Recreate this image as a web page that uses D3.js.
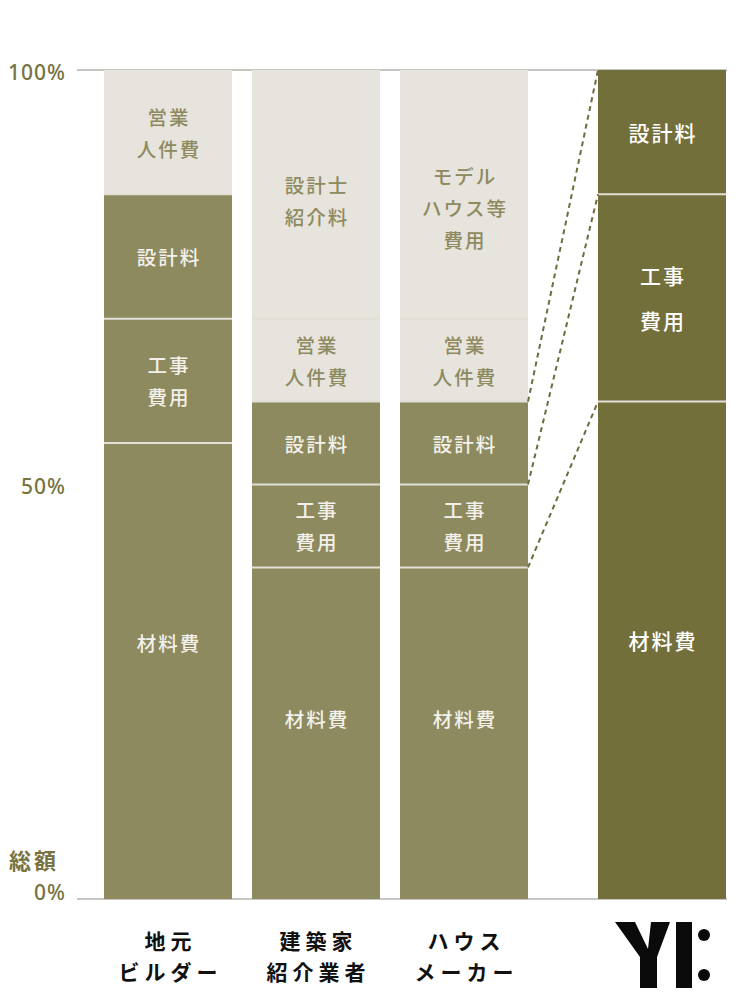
<!DOCTYPE html>
<html><head><meta charset="utf-8">
<script src="https://cdn.jsdelivr.net/npm/d3@7"></script>
<style>
html,body{margin:0;padding:0;background:#fff;}
svg{display:block;font-family:"Noto Sans CJK JP","Noto Sans",sans-serif;}
</style></head>
<body>
<svg id="chart" width="748" height="1000"></svg>
<script>
// ---- data ----
const categories = ["地元ビルダー", "建築家紹介業者", "ハウスメーカー", "YI"];
const categoryLines = [["地元", "ビルダー"], ["建築家", "紹介業者"], ["ハウス", "メーカー"], null];

const segLocal     = [["材料費", 55, "cost"], ["工事\n費用", 15, "cost"], ["設計料", 15, "cost"], ["営業\n人件費", 15, "extra"]];
const segArchitect = [["材料費", 40, "cost"], ["工事\n費用", 10, "cost"], ["設計料", 10, "cost"], ["営業\n人件費", 10, "extra"], ["設計士\n紹介料", 30, "extra"]];
const segMaker     = [["材料費", 40, "cost"], ["工事\n費用", 10, "cost"], ["設計料", 10, "cost"], ["営業\n人件費", 10, "extra"], ["モデル\nハウス等\n費用", 30, "extra"]];
const segYI        = [["材料費", 60, "yi"], ["工事\n費用", 25, "yi"], ["設計料", 15, "yi"]];
const seriesSegments = [segLocal, segArchitect, segMaker, segYI];

const yTicks = [0, 50, 100];
const yTickLabels = ["0%", "50%", "100%"];
const totalLabel = "総額";

// ---- styles ----
const fill = {cost: "#8d8a5f", extra: "#e7e4dd", yi: "#736f3a"};
const textFill = {cost: "#f3f1ea", extra: "#8d8a5f", yi: "#ffffff"};
const labelShift = {"0-0": -29, "1-0": -15, "2-0": -15, "3-0": -10, "1-4": 6, "2-4": 13};
const tickShift = {0: -7, 50: 1.5, 100: 2};

const svg = d3.select("#chart");
const y = d3.scaleLinear().domain([0, 100]).range([899, 70]);
const xb = d3.scaleBand().domain(categories.slice(0, 3)).range([104, 528]).paddingInner(20 / 148);
const bw = xb.bandwidth();
const xPos = c => c === "YI" ? xb(categories[2]) + bw + 70 : xb(c);

// axis lines
svg.selectAll("line.grid").data([0, 100]).join("line")
  .attr("x1", 77).attr("x2", 727)
  .attr("y1", d => y(d)).attr("y2", d => y(d))
  .attr("stroke", "#c6c6c2").attr("stroke-width", 2);

// y tick labels
svg.selectAll("text.ytick").data(yTicks).join("text")
  .attr("x", 66).attr("y", d => y(d) + tickShift[d])
  .attr("text-anchor", "end")
  .attr("dominant-baseline", "central")
  .attr("font-family", "'Noto Sans',sans-serif")
  .attr("font-size", 21).attr("font-weight", 500)
  .attr("letter-spacing", 1)
  .attr("fill", "#77733f")
  .text((d, i) => yTickLabels[i]);
svg.append("text").attr("x", 59).attr("y", 859)
  .attr("text-anchor", "end").attr("dominant-baseline", "central")
  .attr("font-size", 22).attr("font-weight", 700).attr("letter-spacing", 3)
  .attr("fill", "#77733f").text(totalLabel);

// stacked bars
const stacks = seriesSegments.map((segs, bi) => {
  let acc = 0;
  return segs.map((s, si) => {
    const o = {cat: categories[bi], bi, si, label: s[0], v0: acc, v1: acc + s[1], type: s[2]};
    acc += s[1];
    return o;
  });
});

stacks.forEach(segs => {
  const g = svg.append("g");
  g.selectAll("rect").data(segs).join("rect")
    .attr("x", d => xPos(d.cat)).attr("width", bw)
    .attr("y", d => y(d.v1)).attr("height", d => y(d.v0) - y(d.v1))
    .attr("fill", d => fill[d.type]);
  g.selectAll("line.sep").data(segs.filter(d => d.v1 < 100)).join("line")
    .attr("x1", d => xPos(d.cat)).attr("x2", d => xPos(d.cat) + bw)
    .attr("y1", d => y(d.v1)).attr("y2", d => y(d.v1))
    .attr("stroke", "#e2dfd6").attr("stroke-width", 2);
  segs.forEach(d => {
    const lines = d.label.split("\n");
    const isYI = d.type === "yi";
    const lh = isYI ? 45 : 32;
    const fs = isYI ? 21 : 19.5;
    const ls = 2;
    const cy = (y(d.v0) + y(d.v1)) / 2 + (labelShift[d.bi + "-" + d.si] || 0);
    const cx = xPos(d.cat) + bw / 2 + ls / 2;
    const t = g.append("text")
      .attr("text-anchor", "middle")
      .attr("font-size", fs).attr("font-weight", 500)
      .attr("letter-spacing", ls)
      .attr("fill", textFill[d.type]);
    lines.forEach((ln, i) => {
      t.append("tspan").attr("x", cx)
        .attr("y", cy + (i - (lines.length - 1) / 2) * lh)
        .attr("dominant-baseline", "central")
        .text(ln);
    });
  });
});

// dashed connectors from ハウスメーカー cost segments to YI
const maker = stacks[2], yi = stacks[3];
const links = [0, 1, 2].map(i => ({from: maker[i].v1, to: yi[i].v1}));
svg.selectAll("line.link").data(links).join("line")
  .attr("x1", xb(categories[2]) + bw).attr("x2", xPos("YI"))
  .attr("y1", d => y(d.from)).attr("y2", d => y(d.to))
  .attr("stroke", "#6f6b3c").attr("stroke-width", 2)
  .attr("stroke-dasharray", "5,4");

// category labels
categories.forEach((c, i) => {
  if (!categoryLines[i]) return;
  const t = svg.append("text").attr("text-anchor", "middle")
    .attr("font-size", 21).attr("font-weight", 700).attr("letter-spacing", 5)
    .attr("fill", "#111");
  categoryLines[i].forEach((ln, k) => {
    t.append("tspan").attr("x", xPos(c) + bw / 2 + 2.5)
      .attr("y", 940 + k * 31).attr("dominant-baseline", "central").text(ln);
  });
});

// YI logo
const lx = xPos("YI") + 17, ly = 922;
const logo = svg.append("g").attr("transform", `translate(${lx},${ly})`).attr("fill", "#0a0a0a");
logo.append("path").attr("d", "M0,0 L20,0 L33,27 L36,0 L55,0 L42,35 L42,66 L25,66 L25,35 Z");
logo.append("rect").attr("x", 61).attr("y", 0).attr("width", 16).attr("height", 66);
logo.append("circle").attr("cx", 89).attr("cy", 13).attr("r", 6);
logo.append("circle").attr("cx", 89).attr("cy", 53).attr("r", 6);
</script>
</body></html>
